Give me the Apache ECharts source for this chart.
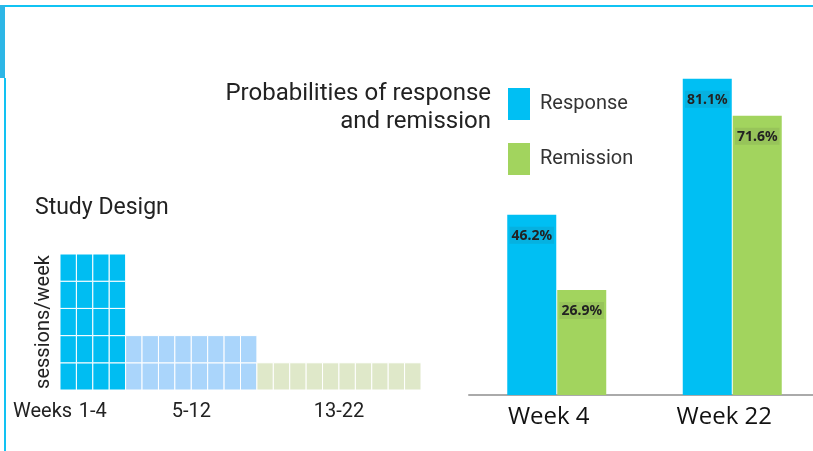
<!DOCTYPE html>
<html lang="en">
<head>
    <meta charset="UTF-8">
    <script src="https://cdn.jsdelivr.net/npm/echarts@6/dist/echarts.min.js"></script>
    <title>Study design and outcomes</title>
    <style>
        html, body { margin: 0; padding: 0; background: #fff; }
    </style>
</head>
<body>
<div id="main" style="width: 813px;height:451px;"></div>
<script type="text/javascript">
    // study design: weekly session schedule
    var phaseLabels = ['1-4', '5-12', '13-22'];
    var phaseWeeks = [4, 8, 10];
    var sessionsPerWeek = [5, 2, 1];

    // outcome probabilities (%)
    var timepoints = ['Week 4', 'Week 22'];
    var responseRates = [46.2, 81.1];
    var remissionRates = [26.9, 71.6];

    var phaseColors = ['#00bdf2', '#aad5fb', '#dfe8c9'];

    // one cell per session slot
    var cells = [];
    var labelValues = [];
    var start = 0;
    for (var p = 0; p < phaseWeeks.length; p++) {
        for (var w = 0; w < phaseWeeks[p]; w++) {
            for (var s = 0; s < sessionsPerWeek[p]; s++) {
                cells.push([start + w, s, p]);
            }
        }
        labelValues.push(start + phaseWeeks[p] / 2);
        start += phaseWeeks[p];
    }
    var totalWeeks = start;

    var myChart = echarts.init(document.getElementById('main'));

    var barLabel = {
        show: true,
        position: 'insideTop',
        distance: 12,
        formatter: '{c}%',
        fontFamily: 'Noto Sans',
        fontSize: 14,
        fontWeight: 'bold',
        color: '#222',
        backgroundColor: 'rgba(60,60,60,0.1)',
        padding: [2, 2, 1, 2]
    };

    var option = {
        backgroundColor: '#fff',
        textStyle: {fontFamily: 'Roboto'},
        graphic: [
            {type: 'rect', shape: {x: 0, y: 5, width: 813, height: 2}, style: {fill: '#10c3f3'}},
            {type: 'rect', shape: {x: 0, y: 5, width: 5, height: 73}, style: {fill: '#2db6e6'}},
            {type: 'rect', shape: {x: 4, y: 78, width: 2, height: 373}, style: {fill: '#12c2f2'}},
            {type: 'text', x: 491, y: 108, style: {
                text: 'Probabilities of response\nand remission', align: 'right', verticalAlign: 'middle',
                font: '24px Roboto', fill: '#222', lineHeight: 28
            }},
            {type: 'text', x: 35, y: 208, style: {
                text: 'Study Design', verticalAlign: 'middle', font: '23px Roboto', fill: '#222'
            }},
            {type: 'text', x: 13, y: 412, style: {
                text: 'Weeks', verticalAlign: 'middle', font: '20px Roboto', fill: '#222'
            }}
        ],
        legend: {
            data: ['Response', 'Remission'],
            orient: 'vertical',
            left: 508,
            top: 88,
            padding: 0,
            icon: 'rect',
            itemWidth: 22,
            itemHeight: 32,
            itemGap: 23,
            textStyle: {fontFamily: 'Roboto', fontSize: 20, color: '#333', padding: [0, 0, 0, 5]}
        },
        grid: [
            {left: 60, top: 254, width: 361, height: 136, outerBoundsMode: 'none'},
            {left: 469, top: 5, width: 351, height: 390, outerBoundsMode: 'none'}
        ],
        xAxis: [
            {
                type: 'value', gridIndex: 0, min: 0, max: totalWeeks,
                axisLine: {show: false}, axisTick: {show: false}, splitLine: {show: false},
                axisLabel: {
                    customValues: labelValues,
                    margin: 12,
                    fontFamily: 'Roboto', fontSize: 20, color: '#222',
                    formatter: function (v) {
                        var i = labelValues.indexOf(v);
                        return i >= 0 ? phaseLabels[i] : '';
                    }
                }
            },
            {
                type: 'category', gridIndex: 1, data: timepoints,
                axisLine: {lineStyle: {color: '#aaa', width: 2}},
                axisTick: {show: false},
                axisLabel: {margin: 10, fontFamily: 'Open Sans', fontSize: 24, color: '#111', padding: [0, 16, 0, 0]}
            }
        ],
        yAxis: [
            {
                type: 'value', gridIndex: 0, min: 0, max: 5,
                name: 'sessions/week', nameLocation: 'middle', nameGap: 6,
                nameTextStyle: {fontFamily: 'Roboto', fontSize: 20, color: '#222'},
                axisLine: {show: false}, axisTick: {show: false}, splitLine: {show: false},
                axisLabel: {show: false}
            },
            {
                type: 'value', gridIndex: 1, min: 0, max: 100, show: false
            }
        ],
        series: [
            {
                type: 'custom',
                xAxisIndex: 0,
                yAxisIndex: 0,
                data: cells,
                renderItem: function (params, api) {
                    var x = api.value(0), y = api.value(1);
                    var p0 = api.coord([x, y + 1]);
                    var p1 = api.coord([x + 1, y]);
                    return {
                        type: 'rect',
                        shape: {x: p0[0], y: p0[1], width: p1[0] - p0[0], height: p1[1] - p0[1]},
                        style: {fill: phaseColors[api.value(2)], stroke: '#fff', lineWidth: 1}
                    };
                }
            },
            {
                name: 'Response', type: 'bar', xAxisIndex: 1, yAxisIndex: 1,
                barWidth: 49, barGap: '2%',
                itemStyle: {color: '#00bff3'},
                label: barLabel,
                data: responseRates
            },
            {
                name: 'Remission', type: 'bar', xAxisIndex: 1, yAxisIndex: 1,
                barWidth: 49, barGap: '2%',
                itemStyle: {color: '#a2d45e'},
                label: barLabel,
                data: remissionRates
            }
        ]
    };

    myChart.setOption(option);
</script>
</body>
</html>
